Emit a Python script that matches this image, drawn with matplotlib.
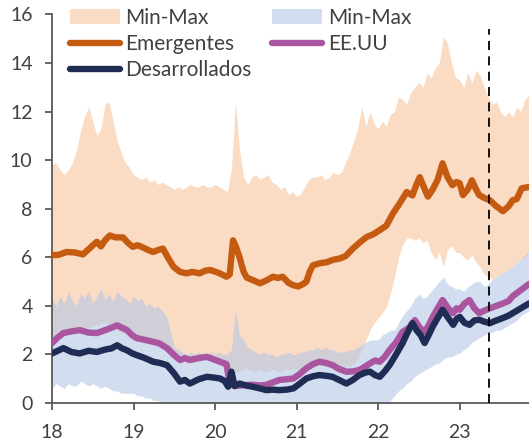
import numpy as np
import matplotlib
matplotlib.use("Agg")
import matplotlib.pyplot as plt
from matplotlib.patches import Patch
from matplotlib.lines import Line2D

plt.rcParams['font.family'] = ['Lato', 'DejaVu Sans']

# ---- Band data (grid every 0.05 year, 18.00 .. 23.85) ----
band_x = np.round(np.arange(18.0, 23.851, 0.05), 2)

em_max = [9.8, 9.9, 9.6, 9.4, 9.6, 9.9, 10.4, 11.2, 11.8, 12.2, 11.6, 11.0, 11.3, 12.3, 12.4, 11.6, 10.8, 10.3, 9.9, 9.7,
          9.4, 9.3, 9.2, 9.3, 9.1, 9.2, 9.0, 9.1, 9.0, 8.9, 8.8, 8.9, 8.8, 8.9, 9.0, 8.9, 8.9, 9.0, 8.9, 8.9,
          9.0, 8.9, 8.8, 8.7, 9.6, 12.4, 10.4, 9.3, 9.0, 9.3, 9.4, 9.2, 9.3, 9.4, 9.1, 9.0, 8.8, 8.9, 8.6, 8.7,
          8.5, 8.6, 8.9, 9.2, 9.3, 9.3, 9.4, 9.2, 9.3, 9.5, 9.4, 9.5, 9.9, 10.3, 10.8, 11.3, 12.2, 11.4, 12.0, 11.5,
          11.3, 11.6, 11.4, 11.9, 12.0, 12.6, 12.5, 12.3, 12.8, 13.0, 13.2, 13.0, 13.6, 13.4, 13.8, 14.0, 15.1, 14.8, 14.0, 13.4,
          13.3, 13.0, 13.6, 13.2, 13.7, 13.5, 13.0, 12.6, 12.3, 12.4, 12.0, 11.8, 12.0, 11.8, 12.2, 12.0, 12.5, 12.7]

em_min = [2.7, 2.9, 3.0, 3.0, 3.1, 3.0, 3.0, 3.1, 3.1, 3.1, 3.2, 3.2, 3.3, 3.3, 3.2, 3.1, 3.0, 2.9, 2.9, 2.8,
          2.7, 2.7, 2.6, 2.6, 2.6, 2.5, 2.5, 2.4, 2.4, 2.2, 2.1, 2.0, 2.0, 2.0, 1.9, 1.9, 1.9, 1.9, 1.8, 1.8,
          1.8, 1.8, 1.7, 1.6, 1.0, 1.2, 1.3, 1.4, 1.4, 1.3, 1.3, 1.4, 1.3, 1.3, 1.4, 1.3, 1.3, 1.4, 1.4, 1.4,
          1.4, 1.4, 1.5, 1.6, 1.6, 1.6, 1.6, 1.5, 1.5, 1.5, 1.5, 1.4, 1.5, 1.5, 1.6, 1.8, 2.2, 2.6, 3.0, 3.3,
          3.5, 3.7, 3.95, 4.5, 5.2, 6.0, 6.5, 6.8, 6.8, 6.7, 6.8, 6.6, 6.7, 6.2, 5.9, 6.2, 5.6, 6.3, 6.5, 6.2,
          6.2, 6.0, 5.9, 6.1, 5.8, 5.6, 5.3, 5.2, 5.1, 5.2, 5.3, 5.4, 5.5, 5.6, 5.8, 5.9, 6.0, 6.2]

dev_max = [4.3, 4.0, 4.4, 4.1, 4.6, 4.2, 4.0, 4.5, 4.3, 4.6, 4.1, 4.4, 4.7, 4.3, 4.5, 4.2, 4.6, 4.4, 4.3, 4.1,
           4.4, 4.2, 4.3, 4.0, 4.1, 3.9, 4.0, 3.8, 3.6, 3.0, 2.3, 2.2, 2.1, 2.0, 2.1, 2.0, 2.1, 2.0, 2.0, 2.1,
           2.0, 2.1, 2.0, 2.0, 2.2, 3.8, 2.8, 2.6, 2.3, 2.2, 2.1, 2.0, 2.1, 2.0, 2.0, 1.9, 2.0, 2.0, 2.1, 2.0,
           2.0, 2.1, 2.1, 2.2, 2.2, 2.3, 2.2, 2.3, 2.2, 2.2, 2.1, 2.1, 2.1, 2.2, 2.2, 2.3, 2.4, 2.5, 2.6, 2.6,
           2.6, 2.8, 2.9, 3.0, 3.0, 3.3, 3.6, 3.8, 4.0, 4.3, 4.5, 4.3, 4.4, 4.6, 4.8, 5.0, 5.2, 4.9, 4.8, 4.7,
           4.7, 4.6, 4.8, 4.9, 5.0, 5.0, 4.8, 4.9, 5.1, 5.2, 5.3, 5.4, 5.5, 5.6, 5.8, 5.9, 6.1, 6.3]

dev_min = [0.6, 0.8, 0.7, 0.6, 0.8, 0.7, 0.7, 0.9, 0.8, 0.7, 0.8, 0.7, 0.6, 0.7, 0.6, 0.5, 0.5, 0.4, 0.4, 0.4,
           0.4, 0.3, 0.3, 0.2, 0.2, 0.1, 0.1, 0.0, 0.0, 0.0, 0.0, 0.0, 0.0, 0.0, 0.0, 0.0, 0.0, 0.0, 0.0, 0.0,
           0.0, 0.0, 0.0, 0.0, 0.0, 0.0, 0.0, 0.0, 0.0, 0.0, 0.0, 0.0, 0.0, 0.0, 0.0, 0.0, 0.0, 0.0, 0.0, 0.0,
           0.0, 0.0, 0.0, 0.0, 0.0, 0.0, 0.0, 0.0, 0.0, 0.0, 0.0, 0.0, 0.0, 0.0, 0.0, 0.0, 0.0, 0.0, 0.0, 0.0,
           0.0, 0.0, 0.0, 0.1, 0.3, 0.5, 0.6, 0.8, 0.9, 1.1, 1.2, 1.3, 1.4, 1.5, 1.6, 1.65, 1.8, 1.9, 1.9, 2.0,
           2.05, 2.2, 2.3, 2.5, 2.6, 2.7, 2.8, 2.9, 2.9, 3.0, 3.0, 3.1, 3.2, 3.3, 3.4, 3.6, 3.7, 3.8]

# ---- Line series ----
emerg_x = [18.00, 18.08, 18.18, 18.28, 18.38, 18.47, 18.55, 18.60, 18.65, 18.71, 18.78, 18.87, 18.93, 18.99,
           19.05, 19.12, 19.18, 19.24, 19.30, 19.36, 19.42, 19.49, 19.57, 19.65, 19.72, 19.81, 19.88, 19.94,
           20.05, 20.14, 20.18, 20.22, 20.26, 20.30, 20.35, 20.39, 20.47, 20.55, 20.63, 20.71, 20.77, 20.83,
           20.90, 20.96, 21.02, 21.08, 21.12, 21.16, 21.20, 21.28, 21.37, 21.45, 21.53, 21.60, 21.69, 21.77,
           21.86, 21.94, 22.02, 22.10, 22.18, 22.26, 22.35, 22.42, 22.47, 22.51, 22.56, 22.61, 22.67, 22.73,
           22.79, 22.85, 22.91, 22.96, 23.00, 23.04, 23.10, 23.15, 23.20, 23.24, 23.30, 23.37, 23.45, 23.53,
           23.60, 23.65, 23.70, 23.76, 23.85]
emerg_y = [6.09, 6.10, 6.22, 6.20, 6.12, 6.40, 6.64, 6.45, 6.70, 6.90, 6.82, 6.82, 6.60, 6.43,
           6.50, 6.40, 6.30, 6.22, 6.30, 6.36, 6.00, 5.61, 5.40, 5.34, 5.40, 5.34, 5.45, 5.48,
           5.35, 5.20, 5.30, 6.70, 6.40, 6.00, 5.40, 5.16, 5.05, 4.93, 5.05, 5.20, 5.15, 5.20,
           4.95, 4.85, 4.80, 4.90, 5.00, 5.40, 5.67, 5.75, 5.80, 5.90, 5.95, 6.05, 6.36, 6.60,
           6.84, 6.95, 7.12, 7.30, 7.80, 8.20, 8.69, 8.55, 9.00, 9.30, 8.90, 8.50, 8.80, 9.20,
           9.87, 9.30, 8.97, 9.10, 9.05, 8.56, 8.80, 9.17, 8.80, 8.56, 8.45, 8.35, 8.10, 7.90,
           8.10, 8.35, 8.40, 8.84, 8.90]

us_x = [18.00, 18.07, 18.14, 18.24, 18.34, 18.45, 18.55, 18.65, 18.73, 18.80, 18.86, 18.92, 18.98, 19.04,
        19.14, 19.24, 19.32, 19.41, 19.49, 19.57, 19.63, 19.69, 19.80, 19.90, 19.98, 20.06, 20.14, 20.18,
        20.24, 20.30, 20.38, 20.46, 20.55, 20.63, 20.71, 20.79, 20.88, 20.96, 21.04, 21.12, 21.20, 21.28,
        21.36, 21.44, 21.52, 21.61, 21.69, 21.77, 21.84, 21.90, 21.96, 22.02, 22.08, 22.14, 22.22, 22.30,
        22.38, 22.45, 22.51, 22.57, 22.62, 22.67, 22.73, 22.79, 22.86, 22.92, 22.96, 23.00, 23.06, 23.12,
        23.18, 23.24, 23.30, 23.37, 23.45, 23.53, 23.60, 23.65, 23.75, 23.85]
us_y = [2.47, 2.70, 2.88, 2.95, 3.00, 2.90, 2.88, 3.00, 3.10, 3.20, 3.10, 3.00, 2.80, 2.67,
        2.60, 2.52, 2.45, 2.26, 2.00, 1.77, 1.85, 1.77, 1.85, 1.90, 1.80, 1.70, 1.60, 0.80,
        0.70, 0.72, 0.74, 0.75, 0.72, 0.75, 0.85, 0.95, 0.98, 1.01, 1.20, 1.43, 1.60, 1.70,
        1.65, 1.56, 1.40, 1.29, 1.30, 1.36, 1.50, 1.63, 1.75, 1.70, 1.90, 2.18, 2.50, 2.93,
        3.10, 3.41, 3.10, 2.93, 3.20, 3.55, 3.90, 4.24, 3.90, 3.70, 3.90, 3.84, 4.10, 4.24,
        3.90, 3.70, 3.80, 3.90, 4.00, 4.10, 4.20, 4.40, 4.65, 4.90]

dev_x = [18.00, 18.07, 18.14, 18.24, 18.34, 18.45, 18.55, 18.65, 18.73, 18.80, 18.86, 18.92, 18.98, 19.04,
         19.14, 19.24, 19.32, 19.41, 19.49, 19.57, 19.63, 19.69, 19.80, 19.90, 19.98, 20.06, 20.12, 20.16,
         20.20, 20.24, 20.30, 20.38, 20.46, 20.55, 20.63, 20.71, 20.79, 20.88, 20.96, 21.04, 21.12, 21.20,
         21.28, 21.36, 21.44, 21.52, 21.61, 21.69, 21.77, 21.84, 21.90, 21.96, 22.02, 22.08, 22.14, 22.22,
         22.30, 22.36, 22.42, 22.47, 22.52, 22.57, 22.62, 22.67, 22.73, 22.79, 22.86, 22.92, 22.96, 23.00,
         23.06, 23.12, 23.18, 23.24, 23.30, 23.37, 23.45, 23.53, 23.60, 23.65, 23.75, 23.85]
dev_y = [2.04, 2.15, 2.26, 2.10, 2.04, 2.15, 2.10, 2.20, 2.25, 2.38, 2.25, 2.17, 2.05, 1.97,
         1.85, 1.70, 1.65, 1.56, 1.25, 0.88, 0.95, 0.80, 0.98, 1.08, 1.05, 1.01, 0.90, 0.67,
         1.29, 0.70, 0.80, 0.72, 0.67, 0.60, 0.53, 0.55, 0.53, 0.55, 0.60, 0.80, 1.01, 1.10,
         1.15, 1.12, 1.08, 0.95, 0.80, 0.95, 1.15, 1.25, 1.29, 1.15, 1.08, 1.30, 1.56, 2.00,
         2.47, 2.90, 3.29, 3.00, 2.80, 2.47, 2.80, 3.15, 3.50, 3.84, 3.50, 3.22, 3.45, 3.55,
         3.30, 3.22, 3.40, 3.43, 3.35, 3.29, 3.40, 3.50, 3.60, 3.70, 3.90, 4.10]

cutoff_x = 23.36
y_ticks = [0, 2, 4, 6, 8, 10, 12, 14, 16]
x_ticks = [18, 19, 20, 21, 22, 23]
x_labels = ['18', '19', '20', '21', '22', '23']

c_em_band = '#FADBC3'
c_dev_band = '#B4C7E7'
c_em = '#C55A11'
c_us = '#A9559F'
c_dev = '#1F2D55'
txt = '#404040'
spine_c = '#595959'

fig = plt.figure(figsize=(5.29, 4.46), dpi=100)
ax = fig.add_axes([52/529, 43/446, 1 - 52/529, (403 - 14.5)/446])

ax.fill_between(band_x, em_min, em_max, color=c_em_band, lw=0, zorder=1)
ax.fill_between(band_x, dev_min, dev_max, color=c_dev_band, alpha=0.6, lw=0, zorder=2)
ax.plot(emerg_x, emerg_y, color=c_em, lw=4.6, zorder=3, solid_capstyle='round', solid_joinstyle='round')
ax.plot(us_x, us_y, color=c_us, lw=4.6, zorder=4, solid_capstyle='round', solid_joinstyle='round')
ax.plot(dev_x, dev_y, color=c_dev, lw=4.6, zorder=5, solid_capstyle='round', solid_joinstyle='round')
ax.vlines(cutoff_x, 0, 15.4, colors='black', linestyles=(0, (5, 3.5)), lw=1.3, zorder=6)

ax.set_xlim(18, 23.85)
ax.set_ylim(0, 16)
ax.set_yticks(y_ticks)
ax.set_xticks(x_ticks)
ax.set_xticklabels(x_labels)
ax.tick_params(axis='both', colors=spine_c, labelcolor=txt, labelsize=14, length=5, width=1.3)
ax.tick_params(axis='x', pad=10)
ax.tick_params(axis='y', pad=9)
for s in ['top', 'right']:
    ax.spines[s].set_visible(False)
for s in ['left', 'bottom']:
    ax.spines[s].set_color(spine_c)
    ax.spines[s].set_linewidth(1.3)

handles = [Patch(facecolor=c_em_band, edgecolor='none'),
           Line2D([], [], color=c_em, lw=4.6, solid_capstyle='round'),
           Line2D([], [], color=c_dev, lw=4.6, solid_capstyle='round'),
           Patch(facecolor=c_dev_band, alpha=0.6, edgecolor='none'),
           Line2D([], [], color=c_us, lw=4.6, solid_capstyle='round')]
labels = ['Min-Max', 'Emergentes', 'Desarrollados', 'Min-Max', 'EE.UU']
leg = ax.legend(handles, labels, ncol=2, loc='upper left',
                bbox_to_anchor=(70/529, 1 - 8/446), bbox_transform=fig.transFigure,
                frameon=False, fontsize=15, handlelength=2.4, handletextpad=0.25,
                columnspacing=1.0, labelspacing=0.3, borderpad=0, borderaxespad=0)
for t in leg.get_texts():
    t.set_color(txt)

fig.savefig('out.png', dpi=100)
